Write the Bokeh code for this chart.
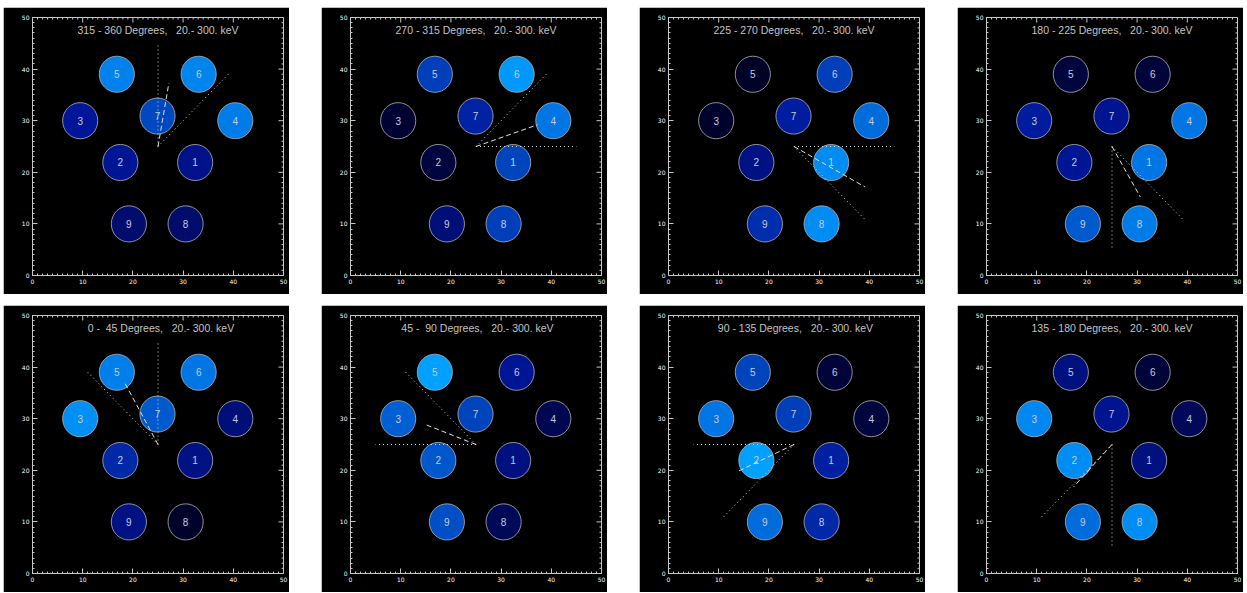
import math
from bokeh.plotting import figure
from bokeh.models import ColumnDataSource, Range1d, SingleIntervalTicker, Spacer
from bokeh.transform import linear_cmap
from bokeh.layouts import column, row
from bokeh.embed import file_html
from bokeh.resources import INLINE
from bokeh.core.properties import value

# ---------------- data ----------------
det_ids = ["1", "2", "3", "4", "5", "6", "7", "8", "9"]
det_x = [32.4, 17.5, 9.5, 40.4, 16.8, 33.1, 24.9, 30.5, 19.2]
det_y = [21.9, 21.9, 30.0, 30.0, 39.0, 39.0, 30.9, 10.0, 10.0]
det_diameter = 7.0

energy_lo = 20
energy_hi = 300

# panels in display order (row 1 then row 2)
sector_lo = [315, 270, 225, 180, 0, 45, 90, 135]
sector_hi = [360, 315, 270, 225, 45, 90, 135, 180]
sector_len = 20.0

# fitted direction (deg, counter-clockwise from +y) and its length
fit_angle = [350, 289, 241, 210, 29, 69, 115, 137]
fit_length = [12.5, 13.0, 16.2, 11.3, 13.7, 11.0, 12.2, 11.2]

# relative detector rates (0..1), detectors 1..9
rate_315_360 = [0.35, 0.38, 0.40, 0.85, 0.87, 0.88, 0.62, 0.25, 0.27]
rate_270_315 = [0.60, 0.12, 0.08, 0.82, 0.58, 0.97, 0.45, 0.58, 0.30]
rate_225_270 = [0.92, 0.33, 0.06, 0.78, 0.04, 0.58, 0.43, 0.92, 0.50]
rate_180_225 = [0.82, 0.38, 0.42, 0.82, 0.12, 0.10, 0.37, 0.85, 0.70]
rate_0_45 = [0.33, 0.48, 0.93, 0.30, 0.86, 0.82, 0.70, 0.05, 0.33]
rate_45_90 = [0.32, 0.68, 0.72, 0.18, 1.00, 0.38, 0.60, 0.20, 0.65]
rate_90_135 = [0.44, 1.00, 0.82, 0.12, 0.60, 0.10, 0.58, 0.48, 0.78]
rate_135_180 = [0.32, 0.92, 0.90, 0.20, 0.32, 0.10, 0.37, 0.92, 0.78]
rates = [rate_315_360, rate_270_315, rate_225_270, rate_180_225,
         rate_0_45, rate_45_90, rate_90_135, rate_135_180]

# colour table stops
cmap_pos = [0.0, 0.2, 0.4, 0.6, 0.8, 1.0]
cmap_hex = ["#00001a", "#000858", "#00169a", "#0044bc", "#0070e0", "#00a0ff"]

# axis
axis_lo, axis_hi = 0, 50
major_step, minor_step = 10, 1


def build_palette(n=256):
    rgb = [tuple(int(h[i:i + 2], 16) for i in (1, 3, 5)) for h in cmap_hex]
    out = []
    for k in range(n):
        t = k / (n - 1)
        for j in range(len(cmap_pos) - 1):
            if cmap_pos[j] <= t <= cmap_pos[j + 1]:
                f = (t - cmap_pos[j]) / (cmap_pos[j + 1] - cmap_pos[j])
                c = [round(rgb[j][m] + f * (rgb[j + 1][m] - rgb[j][m])) for m in range(3)]
                out.append("#%02x%02x%02x" % tuple(c))
                break
    return out


palette = build_palette()
AX = "#c8c8c8"
W, H = 286, 287
BL, BR, BT, BB = 29, 6, 10, 19
FW, FH = W - BL - BR, H - BT - BB


def endpoint(angle, length, cx=25.0, cy=25.0):
    a = math.radians(angle)
    return cx - length * math.sin(a), cy + length * math.cos(a)


def style_axis(ax):
    ax.ticker = SingleIntervalTicker(interval=major_step, num_minor_ticks=major_step // minor_step)
    ax.axis_line_color = AX
    ax.axis_line_width = 1
    ax.major_tick_line_color = AX
    ax.minor_tick_line_color = AX
    ax.major_tick_in = 5
    ax.major_tick_out = 0
    ax.minor_tick_in = 2
    ax.minor_tick_out = 0
    ax.major_label_text_color = "white"
    ax.major_label_text_font = "DejaVu Sans"
    ax.major_label_text_font_size = "6px"
    ax.major_label_standoff = 3


def make_panel(i):
    p = figure(width=W, height=H, x_range=Range1d(axis_lo, axis_hi), y_range=Range1d(axis_lo, axis_hi),
               output_backend="svg", toolbar_location=None,
               background_fill_color="black", border_fill_color="black",
               outline_line_color=AX, outline_line_width=1,
               min_border_left=BL, min_border_right=BR, min_border_top=BT, min_border_bottom=BB)
    p.grid.visible = False
    style_axis(p.xaxis[0])
    style_axis(p.yaxis[0])

    # inward ticks on top and right edges (box axes)
    tv = list(range(axis_lo, axis_hi + 1, minor_step))
    tlen = [5 if v % major_step == 0 else 2 for v in tv]
    sx = (axis_hi - axis_lo) / FW
    sy = (axis_hi - axis_lo) / FH
    p.segment(x0=tv, y0=[axis_hi] * len(tv), x1=tv, y1=[axis_hi - L * sy for L in tlen],
              line_color=AX, line_width=1)
    p.segment(x0=[axis_hi] * len(tv), y0=tv, x1=[axis_hi - L * sx for L in tlen], y1=tv,
              line_color=AX, line_width=1)

    src = ColumnDataSource(dict(x=det_x, y=det_y, id=det_ids, rate=rates[i]))
    p.ellipse(x="x", y="y", width=det_diameter, height=det_diameter, source=src,
              fill_color=linear_cmap("rate", palette, 0, 1),
              line_color="#b4b4b4", line_width=0.8)
    p.text(x="x", y="y", text="id", source=src, text_align="center",
           text_baseline="middle", text_color="#c4cce4",
           text_font=value("Liberation Sans"), text_font_size="10px")

    for ang in (sector_lo[i], sector_hi[i]):
        ex, ey = endpoint(ang, sector_len)
        p.line([25, ex], [25, ey], line_color="#d8d8d8", line_width=1, line_dash="1 3")
    fx, fy = endpoint(fit_angle[i], fit_length[i])
    p.line([25, fx], [25, fy], line_color="#e0e0e0", line_width=1, line_dash="5 3")

    title = f"{sector_lo[i]:3d} - {sector_hi[i]:3d} Degrees,  {energy_lo:3d}.-{energy_hi:4d}. keV"
    title = title.replace(" ", "\u00a0")
    p.text(x=[25], y=[47.6], text=[title], text_align="center", text_baseline="middle",
           text_color="#c4c4c4", text_font=value("Liberation Sans"), text_font_size="10.5px")
    return p


panels = [make_panel(i) for i in range(8)]


def panel_row(items):
    kids = [Spacer(width=3, height=H)]
    for k, c in enumerate(items):
        if k > 0:
            kids.append(Spacer(width=32, height=H))
        kids.append(c)
    return row(kids, spacing=0)


layout = column(Spacer(width=10, height=7), panel_row(panels[:4]),
                Spacer(width=10, height=11), panel_row(panels[4:]), spacing=0)

open("out.html", "w").write(file_html(layout, INLINE))
